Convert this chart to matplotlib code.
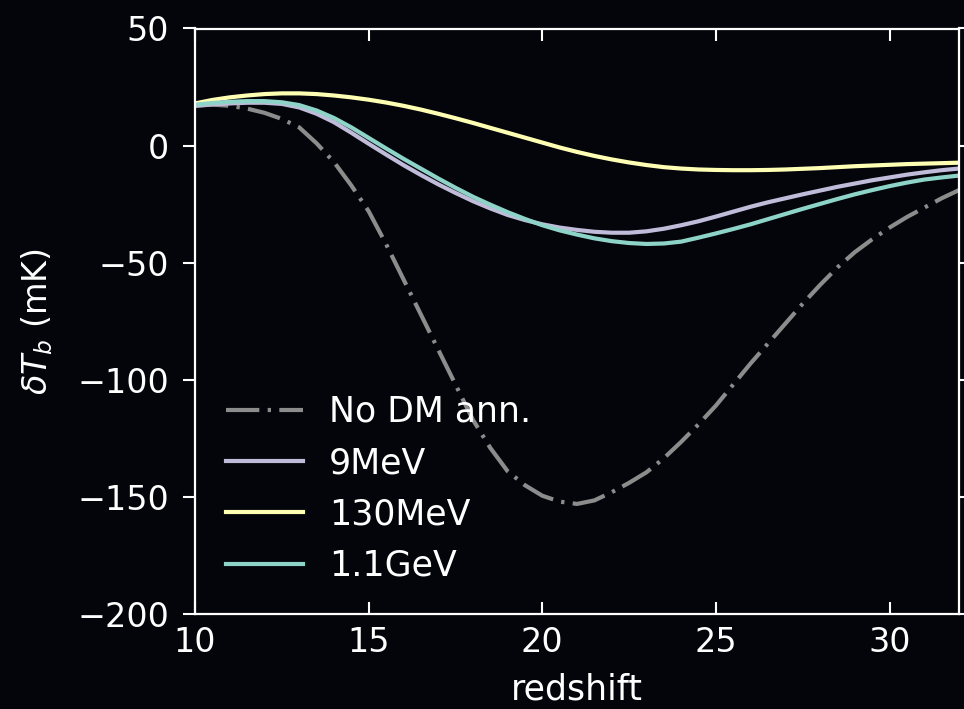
import matplotlib
matplotlib.use("Agg")
import matplotlib.pyplot as plt

# redshift grid and brightness temperature (mK)
z = [10, 10.5, 11, 11.5, 12, 12.5, 13, 13.5, 14, 14.5, 15, 15.5, 16, 16.5, 17, 17.5,
     18, 18.5, 19, 19.5, 20, 20.5, 21, 21.5, 22, 22.5, 23, 23.5, 24, 24.5, 25, 25.5,
     26, 26.5, 27, 27.5, 28, 28.5, 29, 29.5, 30, 30.5, 31, 31.5, 32]

t_nodm = [17, 17.5, 17, 15.8, 14, 11.4, 7.8, 1.0, -7, -17, -28, -42, -57, -72, -87, -102,
          -117, -129, -139, -145, -149.5, -152, -153, -151.5, -148, -144, -139.5, -133.5,
          -126.5, -119, -111, -102, -93, -84.5, -76, -67.5, -59.5, -52, -45.5, -40, -35,
          -30.5, -26.5, -22.5, -19]
t_9mev = [17, 17.6, 18, 18.3, 18.3, 17.8, 16.3, 13.6, 10, 5.5, 0.8, -3.8, -8.3, -12.5, -16.5,
          -20.2, -23.7, -26.8, -29.6, -31.8, -33.6, -35, -36, -36.8, -37.2, -37.2, -36.6,
          -35.5, -34, -32.3, -30.3, -28.2, -26.1, -24.2, -22.5, -20.8, -19.2, -17.6, -16.2,
          -14.8, -13.6, -12.4, -11.4, -10.5, -9.8]
t_130mev = [18, 19.5, 20.6, 21.4, 22, 22.3, 22.3, 22, 21.4, 20.6, 19.6, 18.4, 17, 15.4,
            13.6, 11.7, 9.7, 7.6, 5.5, 3.4, 1.3, -0.8, -2.7, -4.4, -5.9, -7.2, -8.3, -9.2,
            -9.8, -10.2, -10.4, -10.5, -10.5, -10.4, -10.2, -9.9, -9.6, -9.2, -8.8, -8.5,
            -8.2, -7.9, -7.7, -7.5, -7.3]
t_11gev = [17.5, 18.2, 18.7, 19, 19, 18.5, 17.3, 15, 11.8, 7.8, 3.3, -1.2, -5.6, -9.8, -14,
           -18, -21.8, -25.2, -28.4, -31.3, -34, -36.2, -38, -39.6, -40.8, -41.6, -42, -41.8,
           -41, -39.3, -37.5, -35.6, -33.6, -31.4, -29.2, -27, -24.9, -22.8, -20.8, -19,
           -17.3, -15.8, -14.5, -13.6, -12.8]

labels = ["No DM ann.", "9MeV", "130MeV", "1.1GeV"]

plt.style.use("dark_background")
bg = "#04040b"
fs_tick = 24
fs = 25

fig = plt.figure(figsize=(9.64, 7.09), dpi=100, facecolor=bg)
ax = fig.add_axes([195 / 964, 1 - 614 / 709, (959 - 195) / 964, (614 - 28.5) / 709])
ax.set_facecolor(bg)

lw = 3.0
ax.plot(z, t_nodm, color="#8c8c8c", lw=lw, dashes=(8.0, 2.0, 0.8, 2.0), label=labels[0])
ax.plot(z, t_9mev, color="#bfbbd9", lw=lw, label=labels[1])
ax.plot(z, t_130mev, color="#feffb3", lw=lw, label=labels[2])
ax.plot(z, t_11gev, color="#8dd3c7", lw=lw, label=labels[3])

ax.set_xlim(10, 32)
ax.set_ylim(-200, 50)
ax.set_xticks([10, 15, 20, 25, 30])
ax.set_yticks([-200, -150, -100, -50, 0, 50])

for s in ax.spines.values():
    s.set_linewidth(1.6)
    s.set_color("white")

ax.tick_params(axis="x", direction="in", top=True, length=8.5, width=1.5, pad=9, labelsize=fs_tick)
ax.tick_params(axis="y", direction="out", right=True, length=8.5, width=1.5, pad=10, labelsize=fs_tick)

ax.set_xlabel("redshift", fontsize=fs, labelpad=9)
ax.set_ylabel(r"$\delta T_b$ (mK)", fontsize=24, labelpad=16)

ax.legend(loc="lower left", frameon=False, fontsize=fs, handlelength=2.2, handletextpad=0.75)

fig.savefig("out.png", dpi=100, facecolor=bg)
